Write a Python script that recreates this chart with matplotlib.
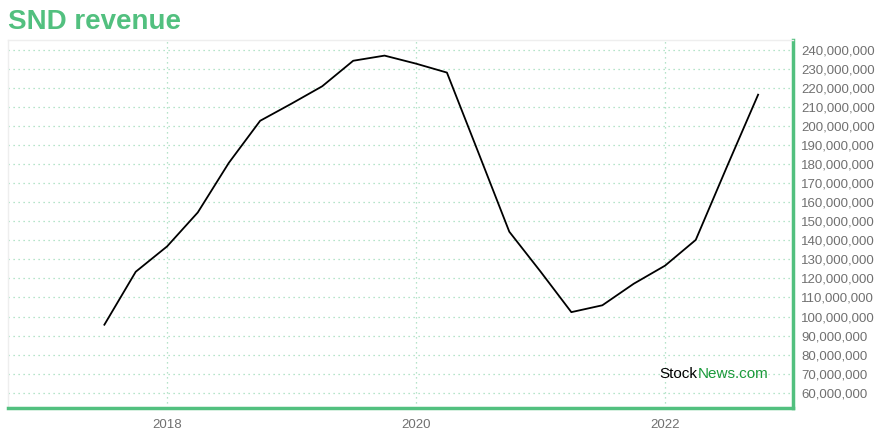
import matplotlib.pyplot as plt
import matplotlib.dates as mdates
import matplotlib.ticker as mticker
import pandas as pd

plt.rcParams['font.family'] = ['Liberation Sans', 'DejaVu Sans']

# quarterly revenue (quarter ends)
quarters = pd.date_range('2017-06-30', '2022-09-30', freq='QE')
revenue = [95.7, 123.5, 136.8, 154.6, 180.6, 202.7, 211.7, 220.8, 234.2, 236.9,
           232.7, 228.0, 186.6, 144.5, 123.5, 102.3, 105.9, 117.2, 126.7, 140.2,
           178.4, 216.4]
revenue = [v * 1e6 for v in revenue]
year_ticks = ['2018-01-01', '2020-01-01', '2022-01-01']
y_ticks = list(range(60_000_000, 240_000_001, 10_000_000))

green = '#52c07f'
grid_green = '#9fdcb9'

fig = plt.figure(figsize=(8.8, 4.4), dpi=100)
ax = fig.add_axes([0.009, 0.0727, 0.892, 0.836])

ax.plot(quarters, revenue, color='black', lw=1.3)

ax.set_xlim(pd.Timestamp('2016-09-20'), pd.Timestamp('2023-01-10'))
ax.set_ylim(52_000_000, 245_000_000)

ax.set_xticks(pd.to_datetime(year_ticks))
ax.xaxis.set_major_formatter(mdates.DateFormatter('%Y'))
ax.yaxis.tick_right()
ax.set_yticks(y_ticks)
ax.yaxis.set_major_formatter(mticker.FuncFormatter(lambda v, p: f'{int(v):,}'))
ax.tick_params(axis='both', length=0, labelsize=9.5, labelcolor='#707070')
ax.tick_params(axis='y', pad=6)
ax.tick_params(axis='x', pad=8)

ax.grid(True, color=grid_green, linestyle=(0, (1, 3)), lw=0.9)

for s in ['left', 'top']:
    ax.spines[s].set_color('#eeeeee')
    ax.spines[s].set_linewidth(1)
for s in ['right', 'bottom']:
    ax.spines[s].set_color(green)
    ax.spines[s].set_linewidth(2.5)

fig.text(0.009, 0.951, 'SND revenue', color=green, fontsize=20,
         fontweight='bold', va='center', ha='left')

t = ax.text(0.83, 0.092, 'Stock', transform=ax.transAxes, fontsize=11,
            color='black', va='center', ha='left')
ax.annotate('News.com', xycoords=t, xy=(1, 0.5), va='center', ha='left',
            fontsize=11, color='#1a9a3a')

fig.savefig('out.png', dpi=100)
